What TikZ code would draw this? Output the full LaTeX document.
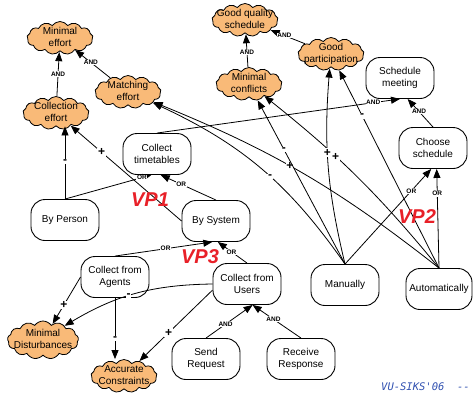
\documentclass[tikz,border=0pt]{standalone}
\usepackage{fontspec}
\setmainfont{Liberation Sans}
\newfontfamily\footerfont[Ligatures=TeXOff]{DejaVu Sans Mono}
\usetikzlibrary{shapes.symbols,arrows.meta}

\definecolor{goalorange}{RGB}{249,186,120}
\definecolor{vpred}{RGB}{232,32,40}
\definecolor{siksblue}{RGB}{48,80,176}

\tikzset{
  goalbox/.style={draw, line width=0.9pt, rounded corners=14pt, fill=white,
    minimum width=68pt, minimum height=41pt, inner sep=1pt, align=center,
    font=\fontsize{10}{12}\selectfont},
  softgoal/.style={cloud, cloud puffs=13, cloud puff arc=110, cloud ignores aspect,
    draw, line width=0.8pt, fill=goalorange, minimum width=66pt, minimum height=33pt,
    inner sep=0pt, font=\fontsize{10}{12}\selectfont},
  link/.style={draw, line width=0.8pt, -{Triangle[length=9pt,width=7pt]}},
  lbl/.style={fill=white, inner sep=0.6pt, font=\fontsize{6.5}{7}\selectfont\bfseries},
  pm/.style={fill=white, inner sep=0.8pt, font=\fontsize{12}{12}\selectfont\bfseries},
  vp/.style={text=vpred, font=\fontsize{20}{20}\selectfont\bfseries\itshape},
}
% cloud text may spill over the cloud outline without enlarging it
\newcommand\cloudtext[1]{\smash{\raisebox{-2.5pt}{\makebox[0pt]{\begin{tabular}{@{}c@{}}#1\end{tabular}}}}}

\begin{document}
\begin{tikzpicture}[x=1pt,y=-1pt]
\useasboundingbox (0,0) rectangle (473,394);

% softgoals
\node[softgoal] (mineffort) at (60,38) {\cloudtext{Minimal\\effort}};
\node[softgoal] (colleffort) at (56,113) {\cloudtext{Collection\\effort}};
\node[softgoal] (matching) at (128,92) {\cloudtext{Matching\\effort}};
\node[softgoal] (goodqual) at (245,20) {\cloudtext{Good quality\\schedule}};
\node[softgoal] (minconf) at (249,84) {\cloudtext{Minimal\\conflicts}};
\node[softgoal] (goodpart) at (331,54) {\cloudtext{Good\\participation}};
\node[softgoal, minimum width=71pt, minimum height=38pt] (mindist) at (43,340) {\cloudtext{Minimal\\Disturbances}};
\node[softgoal] (accurate) at (124,376) {\cloudtext{Accurate\\Constraints}};

% goals and tasks
\node[goalbox] (schedmeet) at (400,78) {Schedule\\meeting};
\node[goalbox] (choose) at (433,148) {Choose\\schedule};
\node[goalbox] (colltime) at (157,154) {Collect\\timetables};
\node[goalbox] (byperson) at (65,220) {By Person};
\node[goalbox] (bysystem) at (216,221) {By System};
\node[goalbox] (agents) at (115,277) {Collect from\\Agents};
\node[goalbox] (users) at (247,284) {Collect from\\Users};
\node[goalbox] (send) at (206,359) {Send\\Request};
\node[goalbox] (receive) at (301,359) {Receive\\Response};
\node[goalbox] (manually) at (345,285) {Manually};
\node[goalbox, minimum width=66pt] (auto) at (439,289) {Automatically};

% decompositions
\draw[link] (colleffort) -- node[lbl,pos=.5]{AND} (mineffort);
\draw[link] (matching) -- node[lbl,pos=.55]{AND} (mineffort);
\draw[link] (minconf) -- node[lbl,pos=.45]{AND} (goodqual);
\draw[link] (goodpart) -- node[lbl,pos=.6]{AND} (goodqual);
\draw[link] (choose.north) -- node[lbl,pos=.55]{AND} (schedmeet.-70);
\draw[link] (colltime.north) -- node[lbl,pos=.89]{AND} (schedmeet.south);
\draw[link] (byperson.north) -- node[lbl,pos=.89]{OR} (colltime.-105);
\draw[link] (bysystem.north) -- node[lbl,pos=.63]{OR} (colltime.-80);
\draw[link] (agents.north) -- node[lbl,pos=.52]{OR} (bysystem.-100);
\draw[link] (users.north) -- node[lbl,pos=.53]{OR} (bysystem.-85);
\draw[link] (send.north) -- node[lbl,pos=.42]{AND} (users.-75);
\draw[link] (receive.north) -- node[lbl,pos=.57]{AND} (users.-75);
\draw[link] (manually.north) -- node[lbl,pos=.77]{OR} (choose.-95);
\draw[link] (auto.north) -- node[lbl,pos=.75]{OR} (choose.-80);

% contributions to softgoals
\draw[link] (byperson.north) -- node[pm,pos=.52]{-} (byperson.north |- colleffort.south);
\draw[link] (bysystem.west) -- node[pm,pos=.72]{+} (colleffort);
\draw[link] (agents.west) -- node[pm,pos=.6]{+} (mindist);
\draw[link] (agents.south) -- node[pm,pos=.66]{-} (agents.south |- accurate.north);
\draw[link] (users.west) to[bend right=15] node[pm,pos=.55]{-} (mindist);
\draw[link] (users.-170) -- node[pm,pos=.6]{+} (accurate);
\draw[link] (manually.north) to[bend right=15] node[pm,pos=.45]{-} (matching);
\draw[link] (auto.north) to[bend right=8] node[pm,pos=.55]{+} (matching);
\draw[link] (manually.north) -- node[pm,pos=.7]{-} (minconf);
\draw[link] (auto.north) to[bend right=6] node[pm,pos=.63]{+} (minconf);
\draw[link] (manually.north) to[bend left=9] node[pm,pos=.58]{+} (goodpart);
\draw[link] (auto.north) -- node[pm,pos=.77]{-} (goodpart);

% variation points
\node[vp] (vp1) at (150,200) {VP1};
\node[vp] (vp2) at (417,217) {VP2};
\node[vp] (vp3) at (200,257) {VP3};

% footer
\node[anchor=west, inner sep=0pt, text=siksblue, font=\footerfont\itshape\fontsize{10.5}{12}\selectfont] (footer) at (381,387) {VU-SIKS'06\ \ -{}-};
\end{tikzpicture}
\end{document}
